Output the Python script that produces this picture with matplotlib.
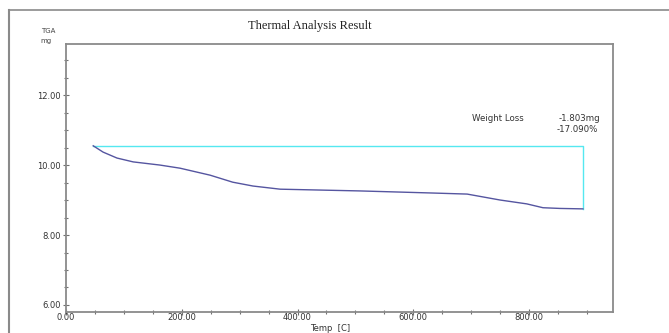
import matplotlib.pyplot as plt
from matplotlib.lines import Line2D
from matplotlib.ticker import FormatStrFormatter, MultipleLocator

# TGA trace
temp_c = [47, 64, 88, 116, 162, 197, 249, 288, 323, 370, 508, 634, 693, 750, 796, 824, 853, 893]
mass_mg = [10.55, 10.37, 10.20, 10.09, 10.00, 9.91, 9.71, 9.51, 9.40, 9.31, 9.26, 9.20, 9.17,
           9.00, 8.89, 8.78, 8.76, 8.747]

loss_mg = "-1.803mg"
loss_pct = "-17.090%"

x_ticks = [0, 200, 400, 600, 800]
y_ticks = [6, 8, 10, 12]

fig = plt.figure(figsize=(6.69, 3.33), dpi=100)
ax = fig.add_axes([0.0987, 0.0631, 0.8176, 0.8048])

ax.plot(temp_c, mass_mg, color="#5555a0", linewidth=1.0)

# step marker: start mass carried across to the final temperature, then down
ax.plot([temp_c[0], temp_c[-1], temp_c[-1]], [mass_mg[0], mass_mg[0], mass_mg[-1]],
        color="#55e8f0", linewidth=1.0, zorder=1)

ax.set_xlim(0, 945)
ax.set_ylim(5.8, 13.46)
ax.set_xticks(x_ticks)
ax.set_yticks(y_ticks)
ax.xaxis.set_minor_locator(MultipleLocator(50))
ax.yaxis.set_minor_locator(MultipleLocator(0.5))
ax.xaxis.set_major_formatter(FormatStrFormatter("%.2f"))
ax.yaxis.set_major_formatter(FormatStrFormatter("%.2f"))

for side in ax.spines.values():
    side.set_color("#8a8a8a")
    side.set_linewidth(1.3)

ax.tick_params(which="both", direction="inout", colors="#707070", labelcolor="#333333",
               labelsize=6, width=0.8)
ax.tick_params(which="major", length=4)
ax.tick_params(axis="x", which="major", pad=-1.5)
ax.tick_params(axis="y", which="major", pad=1.5)
ax.tick_params(which="minor", length=3)

ax.set_xlabel("Temp  [C]", fontsize=6, color="#333333")
ax.xaxis.set_label_coords(0.483, -0.046)

fig.text(0.463, 0.922, "Thermal Analysis Result", family="Liberation Serif",
         fontsize=9, color="#222222", ha="center", va="center")
fig.text(0.061, 0.906, "TGA", fontsize=5, color="#444444", ha="left", va="center")
fig.text(0.061, 0.878, "mg", fontsize=5, color="#444444", ha="left", va="center")

fig.text(0.705, 0.645, "Weight Loss", fontsize=6.2, color="#333333", ha="left", va="center")
fig.text(0.835, 0.645, loss_mg, fontsize=6.2, color="#333333", ha="left", va="center")
fig.text(0.832, 0.612, loss_pct, fontsize=6.2, color="#333333", ha="left", va="center")

# page frame around the printout
fig.add_artist(Line2D([0.0135, 0.0135], [0.0, 0.97], transform=fig.transFigure,
                      color="#8a8a8a", linewidth=1.5))
fig.add_artist(Line2D([0.0135, 1.0], [0.97, 0.97], transform=fig.transFigure,
                      color="#8a8a8a", linewidth=1.2))

fig.savefig("out.png", dpi=100)
